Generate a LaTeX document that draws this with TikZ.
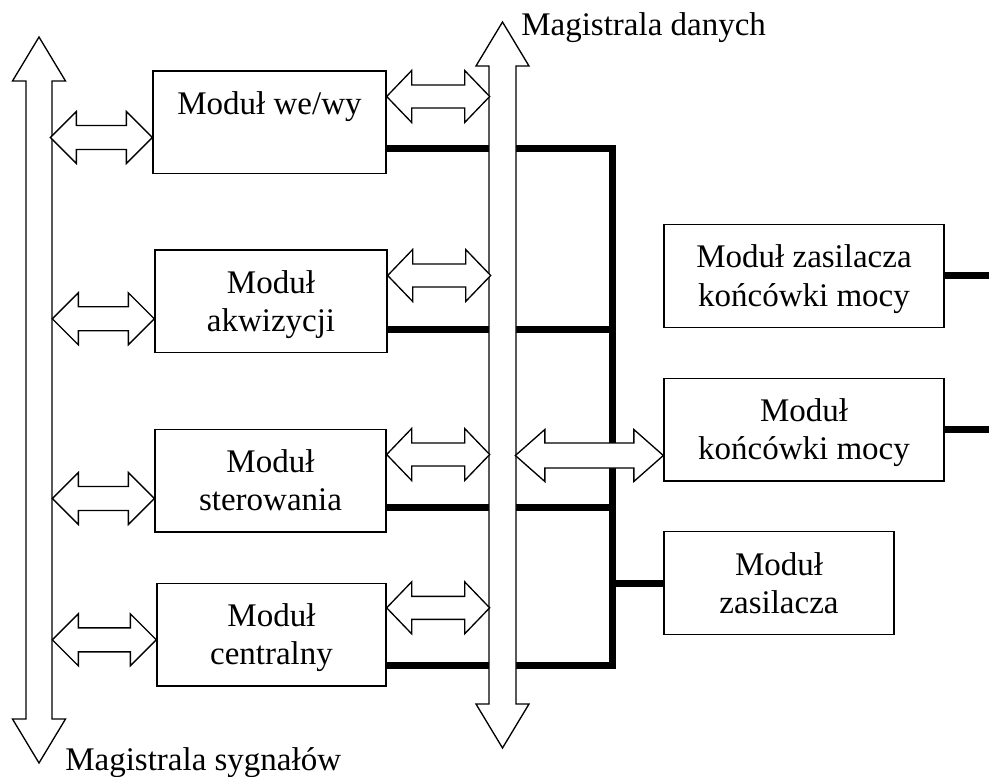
\documentclass[tikz,border=0pt]{standalone}
\usepackage{fontspec}
\setmainfont{Liberation Serif}

\newcommand{\mstrut}{\rule[-5.5pt]{0pt}{27.5pt}}

\begin{document}
\begin{tikzpicture}[x=0.75pt,y=-0.75pt,
  modul/.style={draw,line width=1pt,fill=white,inner sep=0pt,align=center,minimum height=77pt,font=\fontsize{24.75}{28.5}\selectfont},
  power/.style={line width=5.25pt},
  strzalka/.style={draw,fill=white,line width=1pt,line join=miter},
  pics/dwustrzalka/.style n args={4}{code={
    \draw[strzalka] (0,0) -- (#4,#3) -- (#4,#2) -- (#1-#4,#2) -- (#1-#4,#3) -- (#1,0)
      -- (#1-#4,-#3) -- (#1-#4,-#2) -- (#4,-#2) -- (#4,-#3) -- cycle;}},
  opis/.style={anchor=base west,inner sep=0pt,font=\fontsize{24.75}{28.5}\selectfont}]
\useasboundingbox (0,0) rectangle (989,777);
\node[modul,minimum width=174.75pt] (wewy) at (269.5,122.5) {Moduł we/wy\mstrut\\\mstrut};
\node[modul,minimum width=174pt] (akwizycji) at (271,301.5) {Moduł\mstrut\\akwizycji\mstrut};
\node[modul,minimum width=173.25pt] (sterowania) at (270.5,480.5) {Moduł\mstrut\\sterowania\mstrut};
\node[modul,minimum width=171.75pt] (centralny) at (271.5,634.5) {Moduł\mstrut\\centralny\mstrut};
\node[modul,minimum width=210pt] (zasilaczmocy) at (804,276) {Moduł zasilacza\mstrut\\końcówki mocy\mstrut};
\node[modul,minimum width=210pt] (mocy) at (804,429.5) {Moduł\mstrut\\końcówki mocy\mstrut};
\node[modul,minimum width=172.5pt] (zasilacz) at (779,583) {Moduł\mstrut\\zasilacza\mstrut};
\coordinate (szyna) at (612,665);
\coordinate (prawo) at (989,0);
\draw[power] ([yshift=19.5pt]wewy.south east) -| (szyna) -- (centralny.east |- szyna);
\draw[power] ([yshift=18pt]akwizycji.south east) -| (szyna);
\draw[power] ([yshift=18.75pt]sterowania.south east) -| (szyna);
\draw[power] (zasilacz.west) -- (szyna |- zasilacz.west);
\draw[power] (zasilaczmocy.east) -- (prawo |- zasilaczmocy.east);
\draw[power] (mocy.east) -- (prawo |- mocy.east);
\pic[rotate=90] (sygnaly) at (39,763) {dwustrzalka={726}{13}{26.5}{44}};
\pic[rotate=90] (dane) at (502.5,748) {dwustrzalka={726}{13.5}{26.5}{44}};
\pic[rotate=180] at ([yshift=27.75pt]wewy.south west) {dwustrzalka={102}{12}{26}{26}};
\pic[rotate=180] at ([yshift=26pt]akwizycji.south west) {dwustrzalka={102}{12}{26}{26}};
\pic[rotate=180] at ([yshift=25.5pt]sterowania.south west) {dwustrzalka={102}{12}{26}{26}};
\pic[rotate=180] at ([yshift=35pt]centralny.south west) {dwustrzalka={104}{12}{26}{26}};
\pic at ([yshift=-19.5pt]wewy.north east) {dwustrzalka={103}{11.5}{26}{25}};
\pic at ([yshift=-19.5pt]akwizycji.north east) {dwustrzalka={103}{11.5}{26}{25}};
\pic at ([yshift=-19.5pt]sterowania.north east) {dwustrzalka={103}{11.5}{26}{25}};
\pic at ([yshift=-19pt]centralny.north east) {dwustrzalka={103}{11.5}{26}{25}};
\pic[rotate=180] at ([yshift=19.5pt]mocy.south west) {dwustrzalka={148}{12.5}{26}{29.5}};
\node[opis] (mdane) at (521,36) {Magistrala danych};
\node[opis] (msygnaly) at (65,770) {Magistrala sygnałów};
\end{tikzpicture}
\end{document}
